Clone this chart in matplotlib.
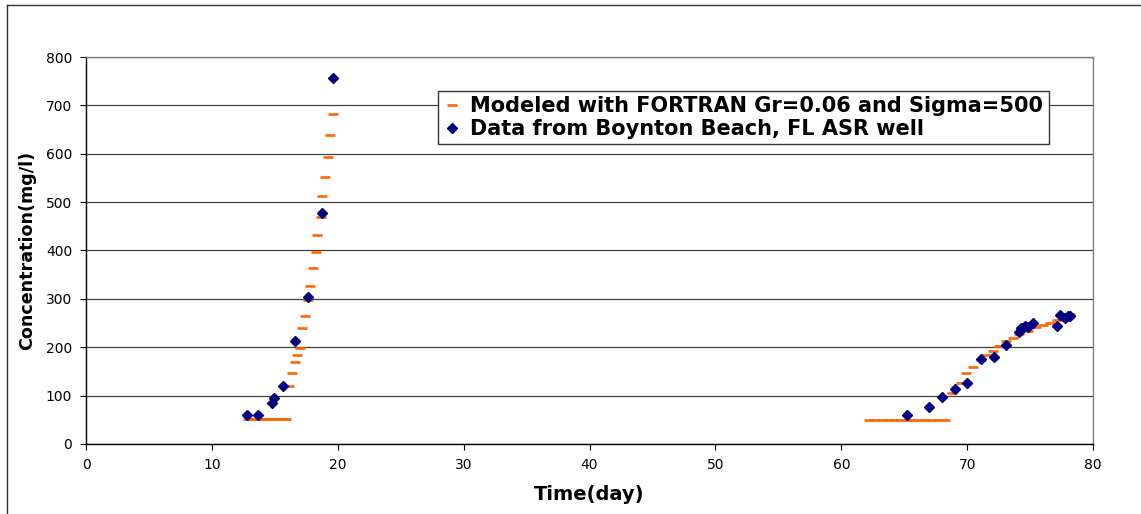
import matplotlib
matplotlib.use("Agg")
import matplotlib.pyplot as plt
from matplotlib.lines import Line2D

# the reference text is wide (stretched Arial); DejaVu Sans matches its widths best
plt.rcParams['font.family'] = ['DejaVu Sans']

# ================== DATA ===================
# Modeled concentrations (FORTRAN, Gr=0.06, Sigma=500)
model_time = [12.9, 13.15, 13.4, 13.65, 13.9, 14.15, 14.4, 14.65, 14.9, 15.15, 15.4, 15.65, 15.9,
              16.15, 16.39, 16.62, 16.76, 17.0, 17.13, 17.37, 17.63, 17.77, 18.0, 18.24, 18.37,
              18.64, 18.74, 18.98, 19.25, 19.35, 19.6,
              62.2, 62.7, 63.2, 63.7, 64.2, 64.7, 65.2, 65.7, 66.2, 66.7, 67.2, 67.7, 68.2,
              68.76, 69.5, 69.9, 70.5, 71.06, 71.54, 72.07, 72.5, 73.1, 73.65, 74.1, 74.85,
              75.5, 76.0, 76.57, 77.1, 77.63, 78.16]
model_conc = [51, 51, 51, 51, 51, 51, 51, 51, 51, 51, 51, 51, 51,
              119, 146, 169, 185, 198, 240, 265, 298, 327, 363, 397, 432,
              470, 513, 551, 594, 638, 682,
              50, 50, 50, 50, 50, 50, 50, 50, 50, 50, 50, 50, 50,
              105, 127, 146, 160, 173, 184, 193, 203, 212, 220, 228, 233,
              242, 247, 251, 256, 264, 269]

# Measured data, Boynton Beach ASR well
data_time = [12.79, 13.66, 14.75, 14.93, 15.65, 16.6, 17.6, 18.74, 19.6,
             65.2, 67.0, 68.0, 69.0, 70.0, 71.1, 72.1, 73.1, 74.1, 74.3, 74.6, 74.85,
             75.2, 77.15, 77.4, 77.76, 78.0, 78.2]
data_conc = [60, 60, 84, 96, 120, 213, 304, 477, 757,
             60, 76, 98, 114, 126, 176, 180, 205, 231, 240, 243, 242,
             250, 243, 266, 260, 264, 264]

x_ticks = [0, 10, 20, 30, 40, 50, 60, 70, 80]
y_ticks = [0, 100, 200, 300, 400, 500, 600, 700, 800]

# ================== FIGURE ===================
fig = plt.figure(figsize=(11.41, 5.14), dpi=100)
ax = fig.add_axes([0.0754, 0.1362, 0.8826, 0.7529])

ax.plot(model_time, model_conc, linestyle='none', marker='_', markersize=7.7,
        markeredgewidth=1.9, color='#FF6600',
        label='Modeled with FORTRAN Gr=0.06 and Sigma=500', zorder=3)
ax.plot(data_time, data_conc, linestyle='none', marker='D', markersize=5.2,
        color='#000080', markeredgecolor='#000080',
        label='Data from Boynton Beach, FL ASR well', zorder=4)

ax.set_xlim(0, 80)
ax.set_ylim(0, 800)
ax.set_xticks(x_ticks)
ax.set_yticks(y_ticks)
ax.tick_params(direction='out', length=4, width=0.8, labelsize=10, pad=6)
ax.yaxis.grid(True, color='#404040', linewidth=0.9)
ax.set_axisbelow(True)

for side in ('left', 'bottom'):
    ax.spines[side].set_color('black')
    ax.spines[side].set_linewidth(1.0)
for side in ('top', 'right'):
    ax.spines[side].set_color('#808080')
    ax.spines[side].set_linewidth(1.0)

ax.set_xlabel('Time(day)', fontsize=14, fontweight='bold')
ax.set_ylabel('Concentration(mg/l)', fontsize=12.6, fontweight='bold')
ax.xaxis.set_label_coords(0.5, -0.106)
ax.yaxis.set_label_coords(-0.05, 0.5)

leg = ax.legend(loc='upper left', bbox_to_anchor=(0.3496, 0.913), borderaxespad=0,
                prop={'weight': 'bold', 'size': 15},
                frameon=True, fancybox=False, edgecolor='#333333',
                handlelength=0.8, handletextpad=0.5, borderpad=0.25,
                labelspacing=0.15, markerscale=0.9)
leg.get_frame().set_linewidth(1.0)
leg.get_frame().set_facecolor('white')
leg.get_frame().set_alpha(1)

# outer chart border (left and top)
fig.add_artist(Line2D([7 / 1141, 7 / 1141], [0, 1 - 5 / 514], color='#333333', linewidth=1))
fig.add_artist(Line2D([7 / 1141, 1], [1 - 5 / 514, 1 - 5 / 514], color='#333333', linewidth=1))

fig.savefig('out.png', dpi=100)
